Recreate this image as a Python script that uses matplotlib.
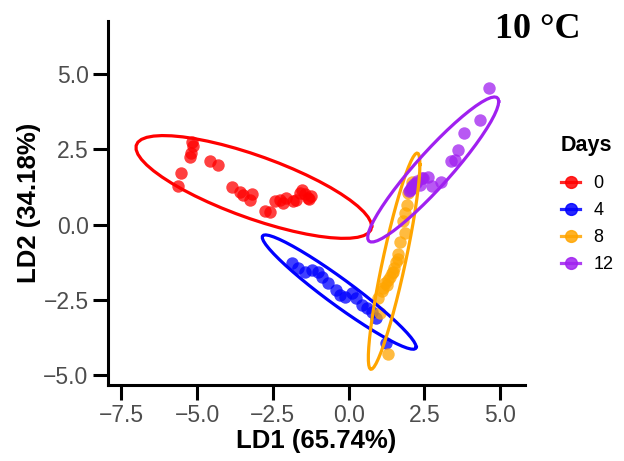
import numpy as np
import matplotlib
matplotlib.use('Agg')
import matplotlib.pyplot as plt
from matplotlib.lines import Line2D

plt.rcParams['font.family'] = ['Liberation Sans', 'DejaVu Sans']

# LDA scores per storage day (overlapping dots estimated)
days = ['0', '4', '8', '12']
colors = ['#FF0000', '#0000FF', '#FFA500', '#A020F0']

ld1_day0 = [-5.17, -5.12, -5.20, -5.24, -4.58, -4.32, -5.52, -5.64, -3.86, -3.59, -3.48,
            -3.18, -3.26, -2.76, -2.60, -2.43, -2.27, -2.05, -1.72, -1.55, -1.30,
            -1.25, -1.45, -1.35, -1.60, -1.85, -2.15]
ld2_day0 = [2.74, 2.61, 2.38, 2.24, 2.11, 1.98, 1.70, 1.28, 1.24, 1.09, 0.98,
            1.01, 0.81, 0.45, 0.41, 0.79, 0.81, 0.87, 0.81, 1.15, 0.84,
            0.95, 1.00, 0.88, 1.05, 0.78, 0.72]

ld1_day4 = [-1.86, -1.67, -1.44, -1.21, -1.01, -0.88, -0.68, -0.42, -0.29, -0.12, 0.11,
            0.24, 0.44, 0.60, 0.77, 0.90, 1.23]
ld2_day4 = [-1.28, -1.45, -1.58, -1.51, -1.58, -1.74, -1.94, -2.18, -2.34, -2.41, -2.28,
            -2.44, -2.68, -2.77, -2.91, -3.11, -3.94]

ld1_day8 = [2.09, 1.96, 1.92, 1.86, 1.79, 1.86, 1.69, 1.63, 1.56, 1.46, 1.36,
            1.20, 1.10, 0.97, 1.03, 1.30, 1.62, 1.50, 1.42, 1.30, 1.25, 1.15]
ld2_day8 = [1.41, 1.05, 0.65, 0.38, 0.12, -0.28, -0.58, -0.98, -1.25, -1.58, -1.74,
            -1.94, -2.21, -2.44, -2.94, -4.30, -1.15, -1.45, -1.62, -1.85, -2.00, -2.10]

ld1_day12 = [4.63, 4.33, 3.81, 3.61, 3.38, 3.51, 3.05, 2.75, 2.62, 2.42, 2.22, 2.02, 2.09,
             2.05, 2.15, 2.25, 2.00, 2.35, 2.45, 2.12]
ld2_day12 = [4.53, 3.47, 3.04, 2.48, 2.11, 2.14, 1.41, 1.28, 1.58, 1.54, 1.38, 1.15, 1.28,
             1.20, 1.35, 1.45, 1.10, 1.30, 1.55, 1.22]

ld1 = [ld1_day0, ld1_day4, ld1_day8, ld1_day12]
ld2 = [ld2_day0, ld2_day4, ld2_day8, ld2_day12]


def ellipse_path(x, y, level=0.95, segments=51):
    # normal-theory confidence ellipse (like stat_ellipse(type = "norm"))
    xy = np.column_stack([x, y])
    center = xy.mean(axis=0)
    shape = np.cov(xy, rowvar=False)
    dfd = len(x) - 1
    qf = dfd / 2 * ((1 - level) ** (-2 / dfd) - 1)   # F(2, dfd) quantile
    radius = np.sqrt(2 * qf)
    t = np.linspace(0, 2 * np.pi, segments + 1)
    circle = np.column_stack([np.cos(t), np.sin(t)])
    L = np.linalg.cholesky(shape)
    pts = center + radius * circle @ L.T
    return pts[:, 0], pts[:, 1]


fig = plt.figure(figsize=(6.24, 4.61), dpi=100)
ax = fig.add_axes([108 / 624, 1 - 385 / 461, (525 - 108) / 624, (385 - 21) / 461])

for xs, ys, c in zip(ld1, ld2, colors):
    ax.scatter(xs, ys, s=80, color=c, alpha=0.75, linewidths=0, zorder=2)
for xs, ys, c in zip(ld1, ld2, colors):
    ex, ey = ellipse_path(xs, ys)
    ax.plot(ex, ey, color=c, lw=2.3, zorder=3)

ax.set_xlim(-7.94, 5.82)
ax.set_ylim(-5.33, 6.76)
ax.set_xticks([-7.5, -5.0, -2.5, 0.0, 2.5, 5.0])
ax.set_yticks([-5.0, -2.5, 0.0, 2.5, 5.0])
ax.set_xticklabels(['\u22127.5', '\u22125.0', '\u22122.5', '0.0', '2.5', '5.0'])
ax.set_yticklabels(['\u22125.0', '\u22122.5', '0.0', '2.5', '5.0'])
ax.tick_params(length=11, width=2.2, color='black', labelsize=16.5, labelcolor='#4D4D4D', pad=3)
for side in ['top', 'right']:
    ax.spines[side].set_visible(False)
for side in ['left', 'bottom']:
    ax.spines[side].set_linewidth(2.2)
ax.set_xlabel('LD1 (65.74%)', fontsize=18.5, fontweight='bold', labelpad=1)
ax.set_ylabel('LD2 (34.18%)', fontsize=18.5, fontweight='bold', labelpad=2)

# legend: title as its own text so the gap above the keys matches
fig.text(561 / 624, 1 - 146 / 461, 'Days', fontsize=15.5, fontweight='bold', va='center', ha='left')
handles = [Line2D([], [], color=c, lw=2.3, marker='o', markersize=8.5, alpha=0.85) for c in colors]
fig.legend(handles, days, loc='upper left', frameon=False,
           bbox_to_anchor=(545 / 624, 1 - 159 / 461), fontsize=13, handlelength=1.05,
           labelspacing=0.55, handletextpad=0.75)

fig.text(495 / 624, 1 - 38 / 461, '10 \u00b0C', fontsize=26, fontweight='bold',
         family=['Liberation Serif', 'DejaVu Serif'])

fig.savefig('out.png', dpi=100)
